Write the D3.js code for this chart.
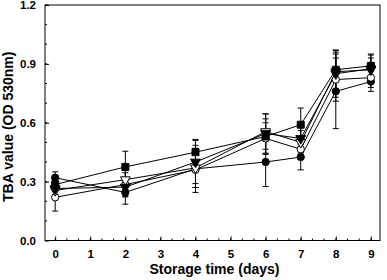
<!DOCTYPE html>
<html>
<head>
<meta charset="utf-8">
<script src="https://cdn.jsdelivr.net/npm/d3@7"></script>
<style>
  body { margin: 0; background: #fff; }
  svg { display: block; font-family: "Liberation Sans", Arial, sans-serif; }
</style>
</head>
<body>
<div id="chart"></div>
<script>
// storage days
var days = [0, 2, 4, 6, 7, 8, 9];
var yTicks = [0.0, 0.3, 0.6, 0.9, 1.2];
var xTicks = [0, 1, 2, 3, 4, 5, 6, 7, 8, 9];

// series values (TBA, OD 530nm) and error bars
var squareVals   = [0.285, 0.375, 0.45, 0.53, 0.59, 0.87, 0.89];
var squareErr    = [0.03, 0.08, 0.065, 0.09, 0.085, 0.10, 0.06];
var circleVals   = [0.32, 0.245, 0.365, 0.40, 0.425, 0.76, 0.81];
var circleErr    = [0.03, 0.06, 0.12, 0.125, 0.065, 0.19, 0.05];
var triVals      = [0.265, 0.272, 0.40, 0.545, 0.52, 0.85, 0.875];
var triErr       = [0.03, 0.05, 0.11, 0.10, 0.07, 0.12, 0.07];
var openTriVals  = [0.255, 0.31, 0.37, 0.555, 0.50, 0.86, 0.87];
var openTriErr   = [0.04, 0.05, 0.10, 0.09, 0.06, 0.10, 0.06];
var openCirVals  = [0.22, 0.285, 0.36, 0.52, 0.465, 0.82, 0.83];
var openCirErr   = [0.07, 0.06, 0.09, 0.08, 0.05, 0.11, 0.05];

var series = [
  { vals: circleVals,  err: circleErr,  symbol: d3.symbolCircle,   fill: "#000" },
  { vals: openCirVals, err: openCirErr, symbol: d3.symbolCircle,   fill: "#fff" },
  { vals: openTriVals, err: openTriErr, symbol: d3.symbolTriangle, fill: "#fff", down: true },
  { vals: triVals,     err: triErr,     symbol: d3.symbolTriangle, fill: "#000", down: true },
  { vals: squareVals,  err: squareErr,  symbol: d3.symbolSquare,   fill: "#000" }
];

var w = 387, h = 280;
var mLeft = 45, mRight = 380, mTop = 5, mBottom = 240.5;

var svg = d3.select("#chart").append("svg")
  .attr("width", w)
  .attr("height", h);

var x = d3.scaleLinear().domain([-0.29, 9.26]).range([mLeft, mRight]);
var y = d3.scaleLinear().domain([0, 1.2]).range([mBottom, mTop]);

// frame
svg.append("rect")
  .attr("x", mLeft).attr("y", mTop)
  .attr("width", mRight - mLeft).attr("height", mBottom - mTop)
  .attr("fill", "none").attr("stroke", "#000").attr("stroke-width", 1);

// minor ticks (inside)
var xMinor = d3.range(0, 9.01, 1 / 3);
svg.append("g").selectAll("line").data(xMinor).enter().append("line")
  .attr("x1", d => x(d)).attr("x2", d => x(d))
  .attr("y1", mBottom).attr("y2", mBottom - 2)
  .attr("stroke", "#000");
var yMinor = d3.range(0, 1.201, 0.1);
svg.append("g").selectAll("line").data(yMinor).enter().append("line")
  .attr("x1", mLeft).attr("x2", mLeft + 2)
  .attr("y1", d => y(d)).attr("y2", d => y(d))
  .attr("stroke", "#000");

// axes
var xAxis = svg.append("g")
  .attr("transform", "translate(0," + mBottom + ")")
  .call(d3.axisBottom(x).tickValues(xTicks).tickSizeInner(-4).tickSizeOuter(0).tickPadding(9));
var yAxis = svg.append("g")
  .attr("transform", "translate(" + mLeft + ",0)")
  .call(d3.axisLeft(y).tickValues(yTicks).tickFormat(d3.format(".1f")).tickSizeInner(-4).tickSizeOuter(0).tickPadding(9));
[xAxis, yAxis].forEach(function(a) {
  a.select(".domain").remove();
  a.selectAll("text").attr("font-size", 11.5).attr("font-weight", "bold").attr("fill", "#000")
    .attr("font-family", "'Liberation Sans', Arial, sans-serif");
});

// axis titles
svg.append("text")
  .attr("x", (mLeft + mRight) / 2 + 2).attr("y", 274)
  .attr("text-anchor", "middle")
  .attr("font-size", 14).attr("font-weight", "bold")
  .text("Storage time (days)");
svg.append("text")
  .attr("transform", "translate(13," + ((mTop + mBottom) / 2 + 4) + ") rotate(-90)")
  .attr("text-anchor", "middle")
  .attr("font-size", 14).attr("font-weight", "bold")
  .text("TBA value (OD 530nm)");

var line = d3.line().x((d, i) => x(days[i])).y(d => y(d));

// error bars
series.forEach(function(s) {
  var g = svg.append("g");
  s.vals.forEach(function(v, i) {
    var cx = x(days[i]);
    g.append("line").attr("x1", cx).attr("x2", cx)
      .attr("y1", y(v - s.err[i])).attr("y2", y(v + s.err[i]))
      .attr("stroke", "#000").attr("stroke-width", 1);
    [v - s.err[i], v + s.err[i]].forEach(function(e) {
      g.append("line").attr("x1", cx - 3).attr("x2", cx + 3)
        .attr("y1", y(e)).attr("y2", y(e))
        .attr("stroke", "#000").attr("stroke-width", 1);
    });
  });
});

// lines
series.forEach(function(s) {
  svg.append("path").datum(s.vals)
    .attr("d", line)
    .attr("fill", "none").attr("stroke", "#000").attr("stroke-width", 1);
});

// markers
series.forEach(function(s) {
  var sym = d3.symbol().type(s.symbol).size(s.symbol === d3.symbolSquare ? 49 : 42);
  svg.append("g").selectAll("path").data(s.vals).enter().append("path")
    .attr("d", sym)
    .attr("transform", (d, i) => "translate(" + x(days[i]) + "," + y(d) + ")" + (s.down ? " rotate(180)" : ""))
    .attr("fill", s.fill).attr("stroke", "#000").attr("stroke-width", 1);
});
</script>
</body>
</html>
